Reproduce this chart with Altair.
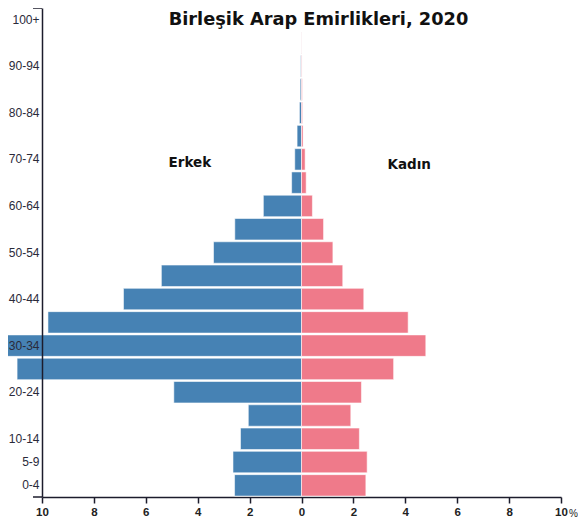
import altair as alt
import pandas as pd

ages = ["0-4", "5-9", "10-14", "15-19", "20-24", "25-29", "30-34", "35-39",
        "40-44", "45-49", "50-54", "55-59", "60-64", "65-69", "70-74", "75-79",
        "80-84", "85-89", "90-94", "95-99", "100+"]
male = [2.58, 2.64, 2.35, 2.05, 4.92, 10.96, 12.0, 9.77, 6.86, 5.40, 3.39,
        2.57, 1.47, 0.38, 0.26, 0.17, 0.08, 0.05, 0.03, 0.01, 0.0]
female = [2.48, 2.53, 2.23, 1.90, 2.31, 3.55, 4.79, 4.11, 2.40, 1.59, 1.21,
          0.85, 0.42, 0.18, 0.14, 0.06, 0.04, 0.03, 0.02, 0.01, 0.0]
shown_age_labels = ["0-4", "5-9", "10-14", "20-24", "30-34", "40-44",
                    "50-54", "60-64", "70-74", "80-84", "90-94", "100+"]
x_ticks = [-10, -8, -6, -4, -2, 0, 2, 4, 6, 8, 10]
sex_names = ["Erkek", "Kadın"]
sex_colors = ["#4682b4", "#ef7a8a"]
label_x = [-4.3, 4.15]
label_age = ["70-74", "70-74"]
label_dy = [4, 6]
title_text = "Birleşik Arap Emirlikleri, 2020"

rows = []
for a, m, f in zip(ages, male, female):
    rows.append({"age": a, "sex": "Erkek", "value": -m})
    rows.append({"age": a, "sex": "Kadın", "value": f})
df = pd.DataFrame(rows)

W, H = 519, 489
axis_color = "#1c1c2c"

y_scale = alt.Scale(domain=list(reversed(ages)), paddingInner=0.08, paddingOuter=0.04)
x_scale = alt.Scale(domain=[-10, 10], nice=False)

bars = alt.Chart(df).mark_bar(stroke="white", strokeWidth=1, strokeOpacity=0.55).encode(
    y=alt.Y("age:N", scale=y_scale, sort=list(reversed(ages)),
            axis=alt.Axis(title=None, values=shown_age_labels, ticks=False,
                          labelFont="Liberation Sans", labelFontSize=12,
                          labelColor="#2a2a3a", labelPadding=3,
                          domainColor=axis_color, domainWidth=1.5, zindex=1)),
    x=alt.X("value:Q", scale=x_scale,
            axis=alt.Axis(title="%", values=x_ticks, labelExpr="abs(datum.value)",
                          grid=False, tickSize=6, tickColor=axis_color, tickWidth=1.5,
                          domainColor=axis_color, domainWidth=1.5,
                          labelFont="Liberation Sans", labelFontWeight="bold",
                          labelFontSize=11.5, labelColor="#222", labelPadding=3,
                          labelFlush=False,
                          titleX=W + 12, titleY=16, titleBaseline="middle",
                          titleAlign="center", titleFont="Liberation Sans",
                          titleFontSize=10, titleFontWeight="normal",
                          titleColor="#222")),
    color=alt.Color("sex:N", scale=alt.Scale(domain=sex_names, range=sex_colors),
                    legend=None),
)

text_layers = []
for name, xv, ag, dyv in zip(sex_names, label_x, label_age, label_dy):
    text_layers.append(
        alt.Chart(pd.DataFrame({"text": [name], "x": [xv], "age": [ag]}))
        .mark_text(font="DejaVu Sans", fontWeight="bold", fontSize=13.5,
                   color="#111", dy=dyv)
        .encode(x=alt.X("x:Q", scale=x_scale),
                y=alt.Y("age:N", scale=y_scale, sort=list(reversed(ages))),
                text="text:N"))

top_outer = alt.Chart(pd.DataFrame({"k": [0]})).mark_rule(
    color=axis_color, strokeWidth=1.5).encode(
    x=alt.value(-9), x2=alt.value(0), y=alt.value(0))

bottom_outer = alt.Chart(pd.DataFrame({"k": [0]})).mark_rule(
    color=axis_color, strokeWidth=1.5).encode(
    x=alt.value(-9), x2=alt.value(0), y=alt.value(H))

chart = alt.layer(bars, *text_layers, top_outer, bottom_outer).properties(
    width=W, height=H,
    title=alt.TitleParams(title_text, font="DejaVu Sans", fontSize=17.8,
                          fontWeight="bold", color="#111", dx=17, dy=26),
    autosize=alt.AutoSizeParams(type="none"),
    padding={"left": 34, "top": 0, "right": 17, "bottom": 21},
).configure_view(stroke=None)

chart.save("out.html", embed_options={"renderer": "svg", "actions": False})
